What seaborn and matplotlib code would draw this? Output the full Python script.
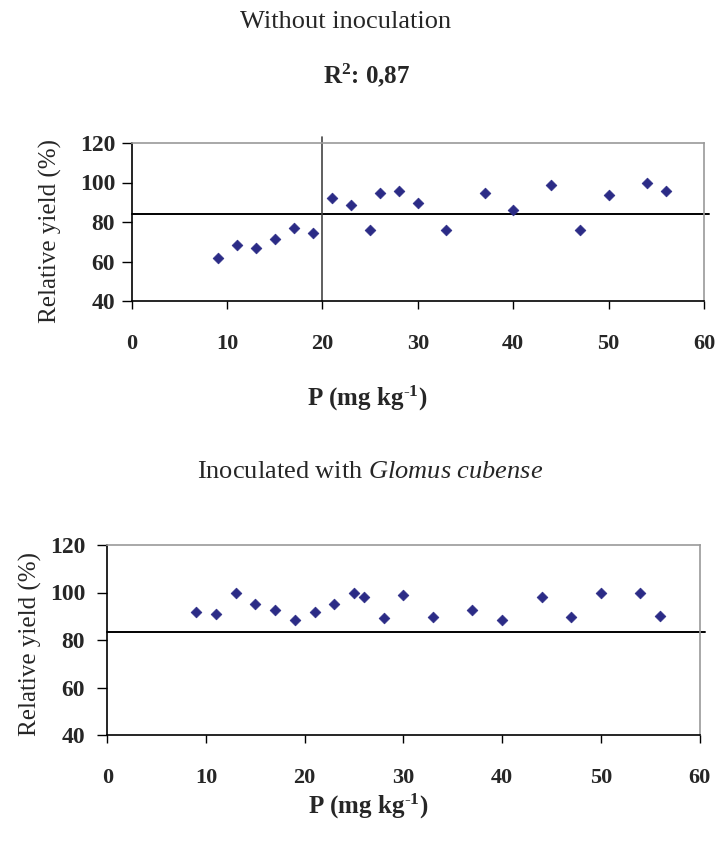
import matplotlib
matplotlib.use("Agg")
import matplotlib.pyplot as plt
import seaborn as sns
import pandas as pd

# P levels in soil (mg kg-1) and relative yield (%)
p_levels = [9, 11, 13, 15, 17, 19, 21, 23, 25, 26, 28, 30, 33, 37, 40, 44, 47, 50, 54, 56]
yield_no_inoc = [62.0, 68.6, 66.6, 71.2, 77.1, 74.4, 92.0, 88.8, 75.8, 94.7,
                 95.9, 89.5, 75.8, 94.7, 86.3, 98.6, 75.8, 93.9, 100.0, 95.9]
yield_glomus = [91.6, 91.0, 100.0, 95.1, 92.7, 88.5, 91.6, 95.1, 100.0, 98.3,
                89.1, 98.9, 89.5, 92.6, 88.5, 98.3, 89.5, 100.0, 100.0, 89.9]

# Cate-Nelson critical levels
critical_yield_no_inoc = 84
critical_p_no_inoc = 20
critical_yield_glomus = 83.3

x_ticks = [0, 10, 20, 30, 40, 50, 60]
y_ticks = [40, 60, 80, 100, 120]

sns.set_style("white")
plt.rcParams['font.family'] = ['Liberation Serif', 'DejaVu Serif']
plt.rcParams['mathtext.fontset'] = 'custom'
plt.rcParams['mathtext.rm'] = 'Liberation Serif'
plt.rcParams['mathtext.bf'] = 'Liberation Serif:bold'
plt.rcParams['mathtext.it'] = 'Liberation Serif:italic'

marker_color = '#2b2b86'
W, H = 716, 844
fig = plt.figure(figsize=(W / 100, H / 100), dpi=100)


def px_axes(left, right, top, bottom):
    return fig.add_axes([left / W, 1 - bottom / H, (right - left) / W, (bottom - top) / H])


def style_axes(ax, ypad):
    ax.set_xlim(0, 60)
    ax.set_ylim(40, 120)
    ax.set_xticks(x_ticks)
    ax.set_yticks(y_ticks)
    for side in ['top', 'right']:
        ax.spines[side].set_color('#9a9a9a')
        ax.spines[side].set_linewidth(1.2)
    for side in ['left', 'bottom']:
        ax.spines[side].set_color('black')
        ax.spines[side].set_linewidth(1.2)
    ax.tick_params(axis='x', direction='out', length=6, width=1, color='black',
                   bottom=True, labelsize=16, pad=18)
    ax.tick_params(axis='y', direction='out', length=7, width=1, color='black',
                   left=True, labelsize=17, pad=ypad)
    for lab in ax.get_xticklabels() + ax.get_yticklabels():
        lab.set_fontweight('bold')


# Top panel: without inoculation
df_top = pd.DataFrame({'P': p_levels, 'yield': yield_no_inoc})
ax1 = px_axes(131.7, 704, 143, 301)
sns.scatterplot(data=df_top, x='P', y='yield', ax=ax1, marker='D', s=30,
                color=marker_color, edgecolor=marker_color, linewidth=0.5, zorder=3)
ax1.axhline(critical_yield_no_inoc, color='black', lw=1.4, xmax=1.008, clip_on=False)
ax1.axvline(critical_p_no_inoc, color='#444444', lw=1.2, ymax=1.04, clip_on=False)
style_axes(ax1, ypad=5)
ax1.set_xlabel('')
ax1.set_ylabel('Relative yield (%)', fontsize=18, va='center')
ax1.yaxis.set_label_coords((50 - 131.7) / 572.3, (301 - 231) / 158)

# Bottom panel: inoculated with Glomus cubense
df_bot = pd.DataFrame({'P': p_levels, 'yield': yield_glomus})
ax2 = px_axes(107.3, 699.5, 545, 735)
sns.scatterplot(data=df_bot, x='P', y='yield', ax=ax2, marker='D', s=30,
                color=marker_color, edgecolor=marker_color, linewidth=0.5, zorder=3)
ax2.axhline(critical_yield_glomus, color='black', lw=1.4, xmax=1.01, clip_on=False)
style_axes(ax2, ypad=9)
ax2.set_xlabel('')
ax2.set_ylabel('Relative yield (%)', fontsize=18, va='center')
ax2.yaxis.set_label_coords((30 - 107.3) / 592.2, 0.48)

# Titles and x labels
fig.text(346 / W, 1 - 22 / H, 'Without inoculation', fontsize=19, ha='center', va='center')
fig.text(367 / W, 1 - 75 / H, r'R$^{\mathbf{2}}$: 0,87', fontsize=18, fontweight='bold',
         ha='center', va='center')
fig.text(367 / W, 1 - 398 / H, r'P (mg kg$^{\mathbf{\text{-}1}}$)', fontsize=18, fontweight='bold',
         ha='center', va='center')
fig.text(370 / W, 1 - 472 / H, r'Inoculated with $\mathit{Glomus\ cubense}$', fontsize=19,
         ha='center', va='center')
fig.text(368 / W, 1 - 806 / H, r'P (mg kg$^{\mathbf{\text{-}1}}$)', fontsize=18, fontweight='bold',
         ha='center', va='center')

fig.savefig('out.png', dpi=100)
